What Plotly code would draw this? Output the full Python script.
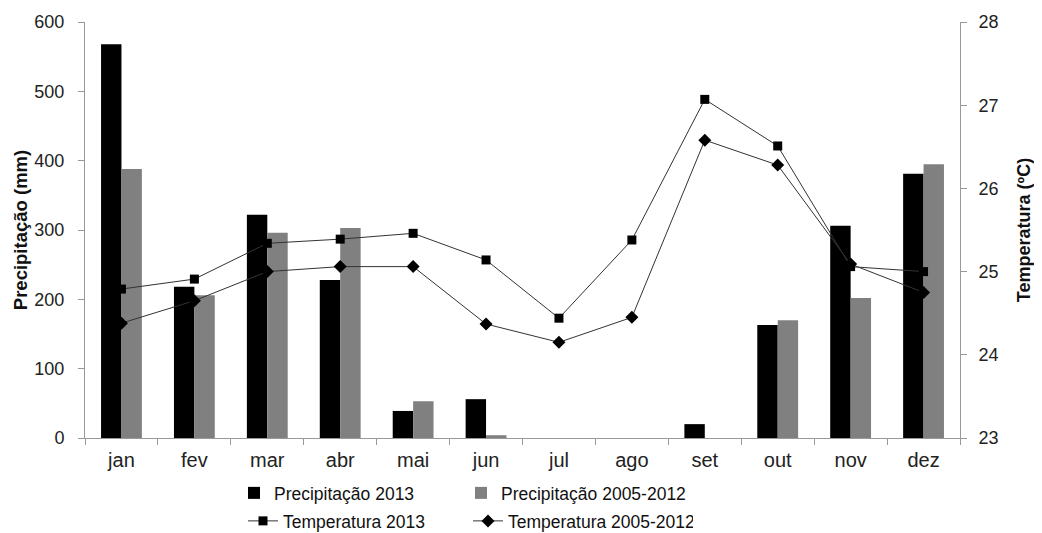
import plotly.graph_objects as go

months = ["jan", "fev", "mar", "abr", "mai", "jun", "jul", "ago", "set", "out", "nov", "dez"]
prec_2013 = [568, 218, 322, 228, 39, 56, 0, 0, 20, 163, 306, 381]
prec_0512 = [388, 206, 296, 303, 53, 4, 0, 0, 0, 170, 202, 395]
temp_2013 = [24.79, 24.91, 25.34, 25.39, 25.46, 25.14, 24.44, 25.38, 27.07, 26.51, 25.06, 25.00]
temp_0512 = [24.38, 24.65, 25.00, 25.06, 25.06, 24.37, 24.15, 24.45, 26.58, 26.28, 25.09, 24.75]

FONT = "Liberation Sans, Arial, sans-serif"
W, H = 1026, 525  # page body has an 8px margin

fig = go.Figure()
fig.add_trace(go.Bar(x=months, y=prec_2013, name="Precipitação 2013",
                     marker=dict(color="#000000", line=dict(width=0)), legend="legend"))
fig.add_trace(go.Bar(x=months, y=prec_0512, name="Precipitação 2005-2012",
                     marker=dict(color="#808080", line=dict(width=0)), legend="legend"))
fig.add_trace(go.Scatter(x=months, y=temp_2013, name="Temperatura 2013", yaxis="y2",
                         mode="lines+markers", line=dict(color="#333333", width=1),
                         marker=dict(symbol="square", size=9, color="#000000"), legend="legend2"))
fig.add_trace(go.Scatter(x=months, y=temp_0512, name="Temperatura 2005-2012", yaxis="y2",
                         mode="lines+markers", line=dict(color="#333333", width=1),
                         marker=dict(symbol="diamond", size=10, color="#000000"), legend="legend2"))

fig.update_layout(
    width=W, height=H,
    margin=dict(l=77, r=74, t=14, b=95, autoexpand=False),
    paper_bgcolor="white", plot_bgcolor="white",
    font=dict(family=FONT, size=16, color="#222222"),
    barmode="group", bargap=0.44, bargroupgap=0,
    showlegend=True,
    xaxis=dict(range=[-0.5, 11.5], showgrid=False, showline=True, linecolor="#999999",
               ticks="outside", tickson="boundaries", ticklen=6, tickcolor="#999999",
               automargin=False, ticklabelstandoff=4,
               tickfont=dict(size=20, family=FONT, color="#222222")),
    yaxis=dict(range=[0, 600], dtick=100, showgrid=False, showline=True, linecolor="#999999",
               ticks="outside", ticklen=6, tickcolor="#999999", zeroline=False,
               ticklabelstandoff=10, automargin=False,
               tickfont=dict(size=18, family=FONT, color="#222222"),
               title=dict(text="<b>Precipitação (mm)</b>", font=dict(size=18.5, family=FONT, color="#111111"),
                          standoff=1)),
    yaxis2=dict(range=[23, 28], dtick=1, overlaying="y", side="right", showgrid=False,
                showline=True, linecolor="#999999", ticks="outside", ticklen=6,
                tickcolor="#999999", zeroline=False, ticklabelstandoff=8, automargin=False,
                tickfont=dict(size=18, family=FONT, color="#222222"),
                title=dict(text="<b>Temperatura (ºC)</b>", font=dict(size=18, family=FONT, color="#111111"),
                           standoff=24)),
    legend=dict(orientation="h", xref="container", yref="container",
                x=226 / W, y=1 - 485 / H, xanchor="left", yanchor="middle",
                entrywidth=182, entrywidthmode="pixels", traceorder="normal",
                font=dict(size=17.5, family=FONT, color="#111111"), itemwidth=30,
                bgcolor="rgba(0,0,0,0)"),
    legend2=dict(orientation="h", xref="container", yref="container",
                 x=235 / W, y=1 - 513 / H, xanchor="left", yanchor="middle",
                 entrywidth=180, entrywidthmode="pixels", traceorder="normal",
                 font=dict(size=17.5, family=FONT, color="#111111"), itemwidth=30,
                 bgcolor="rgba(0,0,0,0)"),
)

fig.write_html("out.html")
